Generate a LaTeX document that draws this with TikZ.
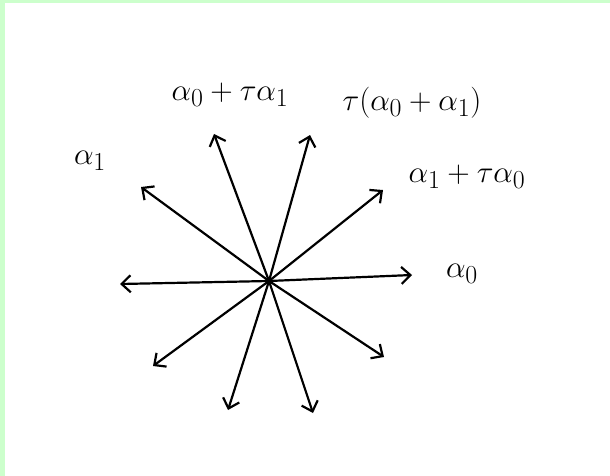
\documentclass[tikz,border=0pt]{standalone}
\usetikzlibrary{arrows.meta}
\definecolor{rim}{RGB}{204,255,204}
\begin{document}
\begin{tikzpicture}[x=1pt,y=-1pt,line cap=round, line join=round,font=\Huge]
	\useasboundingbox (0,0) rectangle (610,476);
	\fill[rim] (0,0) rectangle (610,476);
	\fill[white] (5,3) rectangle (610,476);
	\tikzset{root/.style={draw, line width=2.2pt, -{Straight Barb[length=9pt,width=17pt,line width=2.2pt]}},
		lbl/.style={scale=1.25}}
	\coordinate (O) at (269,281);
	\foreach \n/\x/\y in{a0/412/275, b1/383/190, c1/310/135, d1/214/134, a1/141/187, a2/120/284, b2/153/366, c2/228/410, d2/313/413, e2/384/357}{
		\coordinate (\n) at (\x,\y);
		\draw[root] (O) -- (\n);}
	\node[lbl] (la0) at (462,274) {$\alpha_0$};
	\node[lbl] (lb1) at (467,177) {$\alpha_1+\tau\alpha_0$};
	\node[lbl] (lc1) at (412,103) {$\tau(\alpha_0+\alpha_1)$};
	\node[lbl] (ld1) at (230,95) {$\alpha_0+\tau\alpha_1$};
	\node[lbl] (la1) at (90,161) {$\alpha_1$};
\end{tikzpicture}
\end{document}
